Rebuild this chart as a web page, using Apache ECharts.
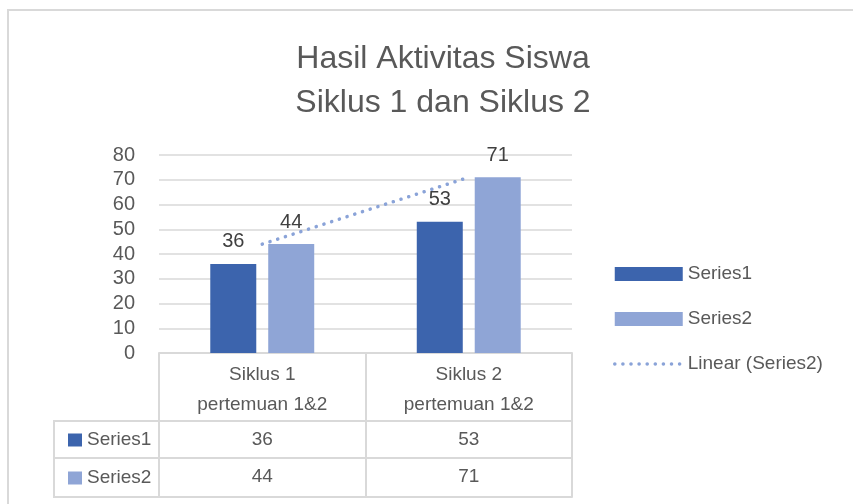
<!DOCTYPE html>
<html>
<head>
<meta charset="utf-8">
<script src="https://cdn.jsdelivr.net/npm/echarts@6/dist/echarts.min.js"></script>
<style>
  html, body { margin: 0; padding: 0; background: #fff; }
  #chart { width: 853px; height: 504px; }
</style>
</head>
<body>
<div id="chart"></div>
<script>
'use strict';

const categories = ['Siklus 1\npertemuan 1&2', 'Siklus 2\npertemuan 1&2'];
const series1 = [36, 53];
const series2 = [44, 71];
// linear trend through the two Series2 points is the points themselves
const trend = series2;
const yTicks = { min: 0, max: 80, interval: 10 };

const font = 'Liberation Sans, Arial, sans-serif';
const textGray = '#595959';
const gridGray = '#d9d9d9';
const blue1 = '#3c64ad';
const blue2 = '#8fa5d6';
const trendBlue = '#8aa3d8';
const dots = { color: trendBlue, width: 3.5, type: [0.1, 8], cap: 'round' };

const chart = echarts.init(document.getElementById('chart'));

// the data table under the plot is built from extra x axes stacked by offset
function tableAxis(offset, values, margin) {
    return {
        type: 'category',
        data: categories,
        position: 'bottom',
        offset: offset,
        axisLine: { show: true, lineStyle: { color: gridGray, width: 2 } },
        axisTick: { show: false },
        axisLabel: {
            show: !!values,
            margin: margin || 0,
            fontSize: 19,
            fontFamily: font,
            color: textGray,
            formatter: (v, i) => values ? String(values[i]) : ''
        },
        splitLine: { show: false }
    };
}

chart.setOption({
    animation: false,
    textStyle: { fontFamily: font },
    title: {
        text: 'Hasil Aktivitas Siswa\nSiklus 1 dan Siklus 2',
        left: 438,
        textAlign: 'center',
        top: 32,
        textStyle: {
            fontSize: 32,
            fontWeight: 'normal',
            lineHeight: 44,
            color: textGray,
            fontFamily: font
        }
    },
    legend: [{
        data: [
            { name: 'Series1', icon: 'rect' },
            { name: 'Series2', icon: 'rect' },
            { name: 'Linear (Series2)', itemStyle: { opacity: 0 }, lineStyle: dots }
        ],
        orient: 'vertical',
        left: 608,
        top: 259,
        itemWidth: 68,
        itemHeight: 14,
        itemGap: 25,
        textStyle: { fontSize: 19, lineHeight: 20, color: textGray, fontFamily: font }
    }, {
        data: [
            { name: 'Series1', icon: 'rect' },
            { name: 'Series2', icon: 'rect' }
        ],
        orient: 'vertical',
        left: 63,
        top: 425,
        itemWidth: 14,
        itemHeight: 13,
        itemGap: 18,
        textStyle: { fontSize: 19, lineHeight: 20, color: textGray, fontFamily: font }
    }],
    grid: { left: 159, right: 281, top: 155, bottom: 151 },
    xAxis: [{
        type: 'category',
        data: categories,
        position: 'bottom',
        axisLine: { show: true, lineStyle: { color: gridGray, width: 2 } },
        axisTick: {
            show: true,
            length: 144,
            interval: 0,
            lineStyle: { color: gridGray, width: 2 }
        },
        axisLabel: {
            margin: 7,
            fontSize: 19,
            lineHeight: 30,
            color: textGray,
            fontFamily: font
        }
    },
        tableAxis(68, series1, 9),
        tableAxis(105, series2, 9),
        tableAxis(144, null)
    ],
    yAxis: {
        type: 'value',
        min: yTicks.min,
        max: yTicks.max,
        interval: yTicks.interval,
        axisLine: { show: false },
        axisTick: { show: false },
        axisLabel: { margin: 24, fontSize: 20, color: textGray, fontFamily: font },
        splitLine: { lineStyle: { color: gridGray, width: 1.5 } }
    },
    graphic: [
        // outer chart frame
        { type: 'rect', shape: { x: 8, y: 10, width: 900, height: 600 },
          style: { fill: 'none', stroke: gridGray, lineWidth: 2 }, silent: true },
        // row header column of the data table
        { type: 'rect', shape: { x: 54, y: 421, width: 105, height: 76 },
          style: { fill: 'none', stroke: gridGray, lineWidth: 2 }, silent: true },
        { type: 'line', shape: { x1: 54, y1: 458, x2: 159, y2: 458 },
          style: { stroke: gridGray, lineWidth: 2 }, silent: true }
    ],
    series: [{
        name: 'Series1',
        type: 'bar',
        data: series1,
        barWidth: 46,
        barGap: '26%',
        itemStyle: { color: blue1 },
        label: { show: true, position: 'top', distance: 12, fontSize: 20, color: '#404040', fontFamily: font }
    }, {
        name: 'Series2',
        type: 'bar',
        data: series2,
        barWidth: 46,
        barGap: '26%',
        itemStyle: { color: blue2 },
        label: { show: true, position: 'top', distance: 12, fontSize: 20, color: '#404040', fontFamily: font }
    }, {
        name: 'Linear (Series2)',
        type: 'line',
        data: trend,
        symbol: 'none',
        z: 5,
        itemStyle: { color: trendBlue },
        lineStyle: dots
    }]
});
</script>
</body>
</html>
